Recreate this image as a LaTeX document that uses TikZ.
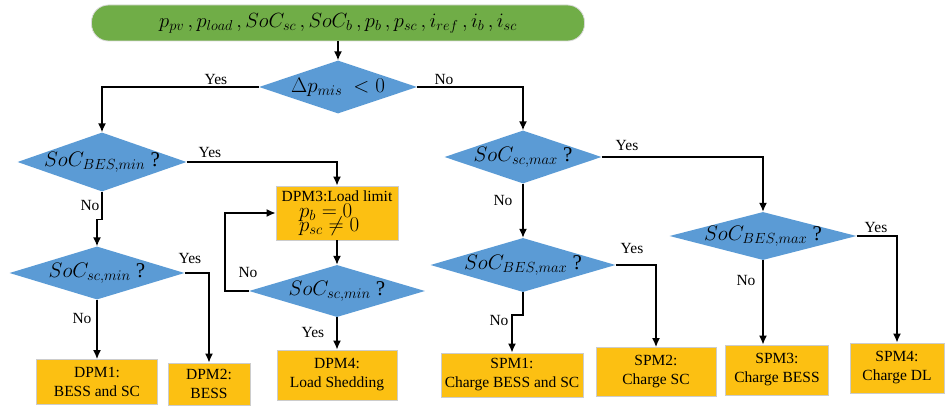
\RequirePackage{fix-cm}
\documentclass[tikz,border=0pt]{standalone}
\usepackage{fontspec}
\setmainfont{Liberation Serif}
\newfontfamily\timesfont{Liberation Serif}
\usetikzlibrary{shapes.geometric,arrows.meta}
\definecolor{diablue}{RGB}{91,155,213}
\definecolor{boxgold}{RGB}{252,192,18}
\definecolor{startgreen}{RGB}{112,173,71}
\newcommand{\tightlines}{\lineskiplimit=-20pt\relax}
\tikzstyle{decision}=[
        diamond,
        fill=diablue,
        inner sep=0pt,
        font=\timesfont\fontsize{21}{24}\selectfont
]
\tikzstyle{modebox}=[
        rectangle,
        fill=boxgold,
        draw=black!20,
        line width=0.8pt,
        align=center,
        inner sep=1pt,
        font=\timesfont\fontsize{15.5}{19}\selectfont
]
\tikzstyle{flow}=[
        line width=1.5pt,
        -{Latex[length=9pt,width=8pt]}
]
\tikzstyle{answer}=[
        font=\timesfont\fontsize{15.5}{18}\selectfont
]
\begin{document}
\begin{tikzpicture}[x=1pt,y=-1pt]
                    \useasboundingbox (0,0) rectangle (946,412);

                    \node[rounded corners=17pt, fill=startgreen, draw=black!15, line width=0.8pt,
                          minimum width=493pt, minimum height=36pt,
                          font=\fontsize{20.5}{24}\selectfont] (inputs) at (338,23)
                          {$p_{pv}\, , p_{load}\, , SoC_{sc}\, , SoC_b\, , p_b\, , p_{sc}\, , i_{ref}\, , i_b\, , i_{sc}$};

                    \node[decision, minimum width=158pt, minimum height=53pt] (dmis) at (338,87) {\makebox[0pt]{$\Delta p_{mis}\ < 0$}};
                    \node[decision, minimum width=169pt, minimum height=59pt] (besmin) at (102,162) {\makebox[0pt]{$SoC_{BES,min}$ ?}};
                    \node[decision, minimum width=175pt, minimum height=53pt] (scmin) at (97,273) {\makebox[0pt]{$SoC_{sc,min}$ ?}};
                    \node[decision, minimum width=176pt, minimum height=52pt] (scminb) at (337,291) {\makebox[0pt]{$SoC_{sc,min}$ ?}};
                    \node[decision, minimum width=157pt, minimum height=53pt] (scmax) at (523,157) {\makebox[0pt]{$SoC_{sc,max}$ ?}};
                    \node[decision, minimum width=185pt, minimum height=54pt] (besmax) at (523,265) {\makebox[0pt]{$SoC_{BES,max}$ ?}};
                    \node[decision, minimum width=187pt, minimum height=48pt] (besmaxb) at (763,236) {\makebox[0pt]{$SoC_{BES,max}$ ?}};

                    \node[modebox, minimum width=122pt, minimum height=54pt,
                          font=\timesfont\fontsize{15.5}{15}\selectfont\tightlines] (dpm3) at (337,213)
                          {DPM3:Load limit\\[1pt]\makebox[76pt][l]{\fontsize{21}{15}\selectfont$p_b = 0$}\\[-1pt]\makebox[76pt][l]{\fontsize{21}{15}\selectfont$p_{sc} \neq 0$}};
                    \node[modebox, minimum width=121pt, minimum height=45pt] (dpm1) at (97,382) {DPM1:\\BESS and SC};
                    \node[modebox, minimum width=82pt, minimum height=42pt] (dpm2) at (209,384) {DPM2:\\BESS};
                    \node[modebox, minimum width=120pt, minimum height=50pt] (dpm4) at (337,375) {DPM4:\\Load Shedding};
                    \node[modebox, minimum width=142pt, minimum height=44pt] (spm1) at (512,375) {SPM1:\\Charge BESS and SC};
                    \node[modebox, minimum width=120pt, minimum height=49pt] (spm2) at (656,372) {SPM2:\\Charge SC};
                    \node[modebox, minimum width=103pt, minimum height=50pt] (spm3) at (777,370) {SPM3:\\Charge BESS};
                    \node[modebox, minimum width=94pt, minimum height=50pt] (spm4) at (897,368) {SPM4:\\Charge DL};

                    \draw[flow] (inputs) -- (dmis);
                    \draw[flow] (dmis.west) -| (besmin.north);
                    \draw[flow] (dmis.east) -| (scmax.north);
                    \draw[flow] (besmin.east) -| (dpm3.north);
                    \draw[flow] (besmin.south) -- ++(0,28) -| (scmin.north);
                    \draw[flow] (scmin.south) -- (dpm1.north);
                    \draw[flow] (scmin.east) -| (dpm2.north);
                    \draw[flow] (dpm3) -- (scminb);
                    \draw[flow] (scminb.west) -- ++(-24,0) |- (dpm3.west);
                    \draw[flow] (scminb) -- (dpm4);
                    \draw[flow] (scmax.east) -| (besmaxb.north);
                    \draw[flow] (scmax) -- (besmax);
                    \draw[flow] (besmaxb.east) -| (spm4.north);
                    \draw[flow] (besmaxb.south) -- (besmaxb.south |- spm3.north);
                    \draw[flow] (besmax.east) -| (spm2.north);
                    \draw[flow] (besmax.south) -- ++(0,23) -| (spm1.north);

                    \node[answer] (yes1) at (216,80) {Yes};
                    \node[answer] (no1) at (444,80) {No};
                    \node[answer] (yes2) at (210,153) {Yes};
                    \node[answer] (no2) at (90,206) {No};
                    \node[answer] (yes3) at (190,258) {Yes};
                    \node[answer] (no3) at (82,318) {No};
                    \node[answer] (no4) at (248,272) {No};
                    \node[answer] (yes4) at (313,332) {Yes};
                    \node[answer] (yes5) at (627,146) {Yes};
                    \node[answer] (no5) at (503,201) {No};
                    \node[answer] (yes6) at (632,249) {Yes};
                    \node[answer] (no6) at (499,320) {No};
                    \node[answer] (yes7) at (876,228) {Yes};
                    \node[answer] (no7) at (746,280) {No};
                \end{tikzpicture}
\end{document}
